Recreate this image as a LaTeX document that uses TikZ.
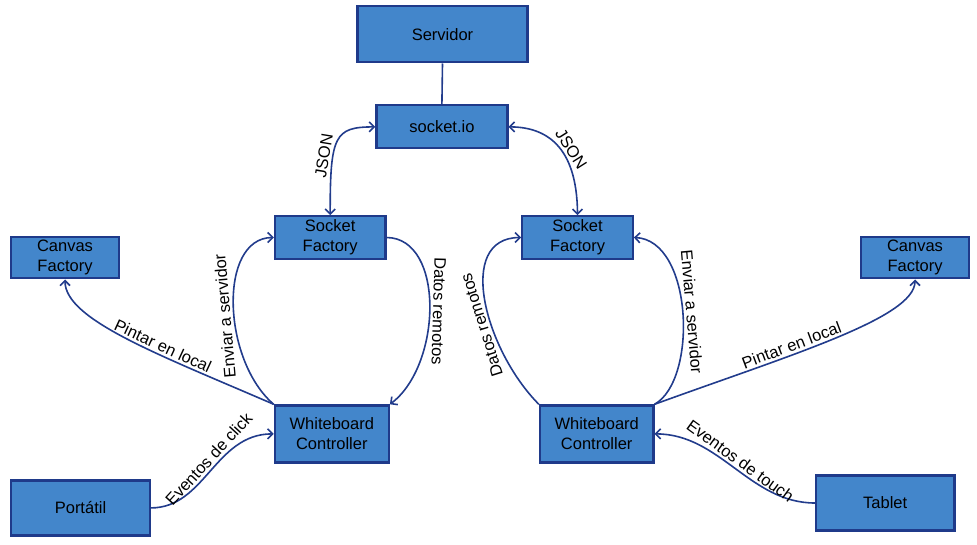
\documentclass[tikz,border=0pt]{standalone}
\usepackage{fontspec}
\setmainfont{Liberation Sans}
\usetikzlibrary{arrows.meta}
\definecolor{boxfill}{HTML}{4386CB}
\definecolor{navy}{HTML}{1F3A8A}
\definecolor{wirecol}{HTML}{223C8C}
\begin{document}
\begin{tikzpicture}[x=1pt,y=1pt,
  box/.style={draw=navy, line width=2.2pt, fill=boxfill, inner sep=0pt, align=center,
    font=\fontsize{16.5}{20}\selectfont, text=black},
  wire/.style={draw=wirecol, line width=1.6pt},
  barb/.tip={Straight Barb[length=5pt,width=10pt]},
  arr/.style={-barb},
  rarr/.style={barb-},
  barr/.style={barb-barb},
  lbl/.style={font=\fontsize{16.5}{20}\selectfont, inner sep=2.5pt, sloped, allow upside down, above, text=black}
]
\useasboundingbox (0,0) rectangle (977,-545);

\node[box, minimum width=170pt, minimum height=56pt] (srv) at (442.5,-34.4) {Servidor};
\node[box, minimum width=131pt, minimum height=43pt] (sio) at (441.9,-126.9) {socket.io};
\node[box, minimum width=110.5pt, minimum height=42.5pt] (sfL) at (330.2,-237.5) {Socket\\Factory};
\node[box, minimum width=107.5pt, minimum height=41pt] (cfL) at (65,-257.9) {Canvas\\Factory};
\node[box, minimum width=114pt, minimum height=57pt] (wcL) at (331.8,-433.9) {Whiteboard\\Controller};
\node[box, minimum width=138.5pt, minimum height=55pt] (port) at (80.5,-507.9) {Portátil};
\node[box, minimum width=110.5pt, minimum height=42.5pt] (sfR) at (577.5,-237.5) {Socket\\Factory};
\node[box, minimum width=107.5pt, minimum height=41pt] (cfR) at (915,-257.9) {Canvas\\Factory};
\node[box, minimum width=113.5pt, minimum height=57pt] (wcR) at (596.7,-433.9) {Whiteboard\\Controller};
\node[box, minimum width=138.5pt, minimum height=55pt] (tab) at (885.2,-503) {Tablet};

% server to socket.io
\draw[wire] (srv.south) -- (sio.north);

% JSON links
\draw[wire,barr] (sfL.north) .. controls (330,-135) and (335,-127) .. (sio.west)
  node[lbl,pos=0.33] {JSON};
\draw[wire,barr] (sio.east) .. controls (545,-127) and (577,-145) .. (sfR.north)
  node[lbl,pos=0.6] {JSON};

% left side
\draw[wire,arr] (wcL.north west) .. controls (222,-360) and (218,-238) .. (sfL.west)
  node[lbl,pos=0.45] {Enviar a servidor};
\draw[wire,arr] (sfL.east) .. controls (445,-238) and (442,-365) .. (wcL.north east)
  node[lbl,pos=0.52] {Datos remotos};
\draw[wire,rarr] (cfL.south) .. controls (65,-320) and (160,-355) .. (wcL.north west)
  node[lbl,pos=0.63] {Pintar en local};
\draw[wire,arr] (port.east) .. controls (205,-508) and (215,-434) .. (wcL.west)
  node[lbl,pos=0.55] {Eventos de click};

% right side
\draw[wire,arr] (wcR.north west) .. controls (485,-350) and (455,-238) .. (sfR.west)
  node[lbl,pos=0.4] {Datos remotos};
\draw[wire,rarr] (sfR.east) .. controls (693,-240) and (698,-380) .. (wcR.north east)
  node[lbl,pos=0.5] {Enviar a servidor};
\draw[wire,arr] (wcR.north east) .. controls (790,-355) and (915,-318) .. (cfR.south)
  node[lbl,pos=0.37] {Pintar en local};
\draw[wire,rarr] (wcR.east) .. controls (720,-434) and (750,-503) .. (tab.west)
  node[lbl,pos=0.5] {Eventos de touch};
\end{tikzpicture}
\end{document}
